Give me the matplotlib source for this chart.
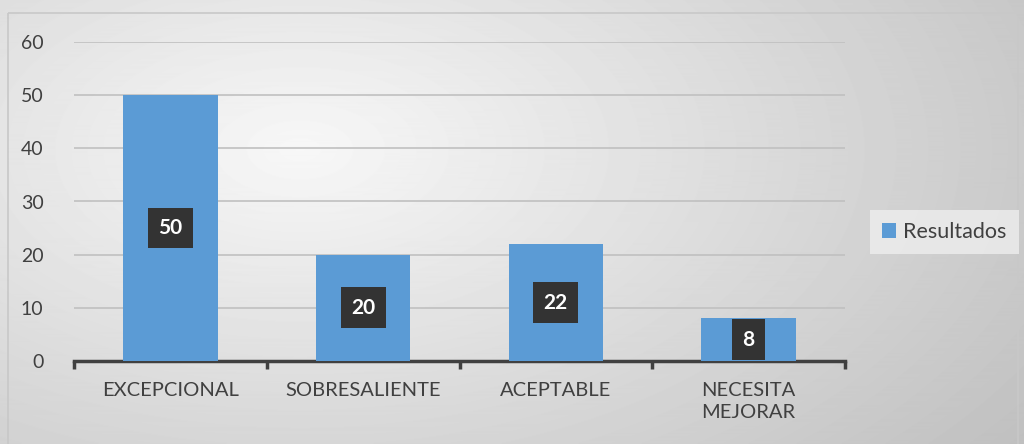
import numpy as np
import matplotlib
matplotlib.use("Agg")
import matplotlib.pyplot as plt
from matplotlib.patches import Rectangle

categorias = ["EXCEPCIONAL", "SOBRESALIENTE", "ACEPTABLE", "NECESITA\nMEJORAR"]
resultados = [50, 20, 22, 8]
yticks = [0, 10, 20, 30, 40, 50, 60]

plt.rcParams['font.family'] = ['Lato', 'DejaVu Sans']
texto = '#404040'

fig = plt.figure(figsize=(10.24, 4.44), dpi=100)

# radial gradient background
bg = fig.add_axes([0, 0, 1, 1], zorder=-10)
yy, xx = np.mgrid[0:444, 0:1024]
d = np.sqrt(((xx - 300) / 900.0) ** 2 + ((yy - 150) / 500.0) ** 2)
g = np.clip(0.97 - 0.22 * d, 0.72, 0.97)
bg.imshow(g, cmap='gray', vmin=0, vmax=1, aspect='auto', extent=[0, 1024, 444, 0])
bg.add_patch(Rectangle((8, 13), 1010, 440, fill=False, edgecolor='#c8c8c8', lw=1.2))
bg.set_xlim(0, 1024)
bg.set_ylim(444, 0)
bg.axis('off')

ax = fig.add_axes([74 / 1024, 1 - 361 / 444, (845 - 74) / 1024, (361 - 42) / 444])
ax.patch.set_alpha(0)

x = np.arange(len(categorias))
bars = ax.bar(x, resultados, width=0.49, color='#5B9BD5', zorder=3, label='Resultados')

for xi, v in zip(x, resultados):
    ax.text(xi, v / 2, str(v), ha='center', va='center', color='white',
            fontsize=15, fontweight='bold', zorder=5,
            bbox=dict(boxstyle='square,pad=0.5', facecolor='#333333', edgecolor='none'))

ax.set_xlim(-0.5, 3.5)
ax.set_ylim(0, 60)
ax.set_yticks(yticks)
ax.yaxis.grid(True, color='#c0c0c0', lw=1.2, zorder=0)
ax.tick_params(axis='y', length=0, labelsize=14, labelcolor=texto, pad=22)

ax.set_xticks(np.arange(-0.5, 4, 1))
ax.set_xticklabels([])
ax.set_xticks(x, minor=True)
ax.set_xticklabels(categorias, minor=True, linespacing=1.4)
ax.tick_params(axis='x', which='major', length=6, width=2.5, color='#404040', direction='out')
ax.tick_params(axis='x', which='minor', length=0, labelsize=14.5, labelcolor=texto, pad=15)

for s in ['top', 'right', 'left']:
    ax.spines[s].set_visible(False)
ax.spines['bottom'].set_color('#404040')
ax.spines['bottom'].set_linewidth(2.5)

leg = fig.legend(handles=[bars], labels=['Resultados'], loc='center left',
                 bbox_to_anchor=(870 / 1024, 1 - 232 / 444), fontsize=15.5,
                 frameon=True, fancybox=False, handlelength=0.65, handleheight=0.65,
                 handletextpad=0.35, borderpad=0.55, borderaxespad=0)
leg.get_frame().set_facecolor('#eeeeee')
leg.get_frame().set_edgecolor('none')
leg.get_frame().set_alpha(0.8)
for t in leg.get_texts():
    t.set_color(texto)

fig.savefig('out.png', dpi=100)
